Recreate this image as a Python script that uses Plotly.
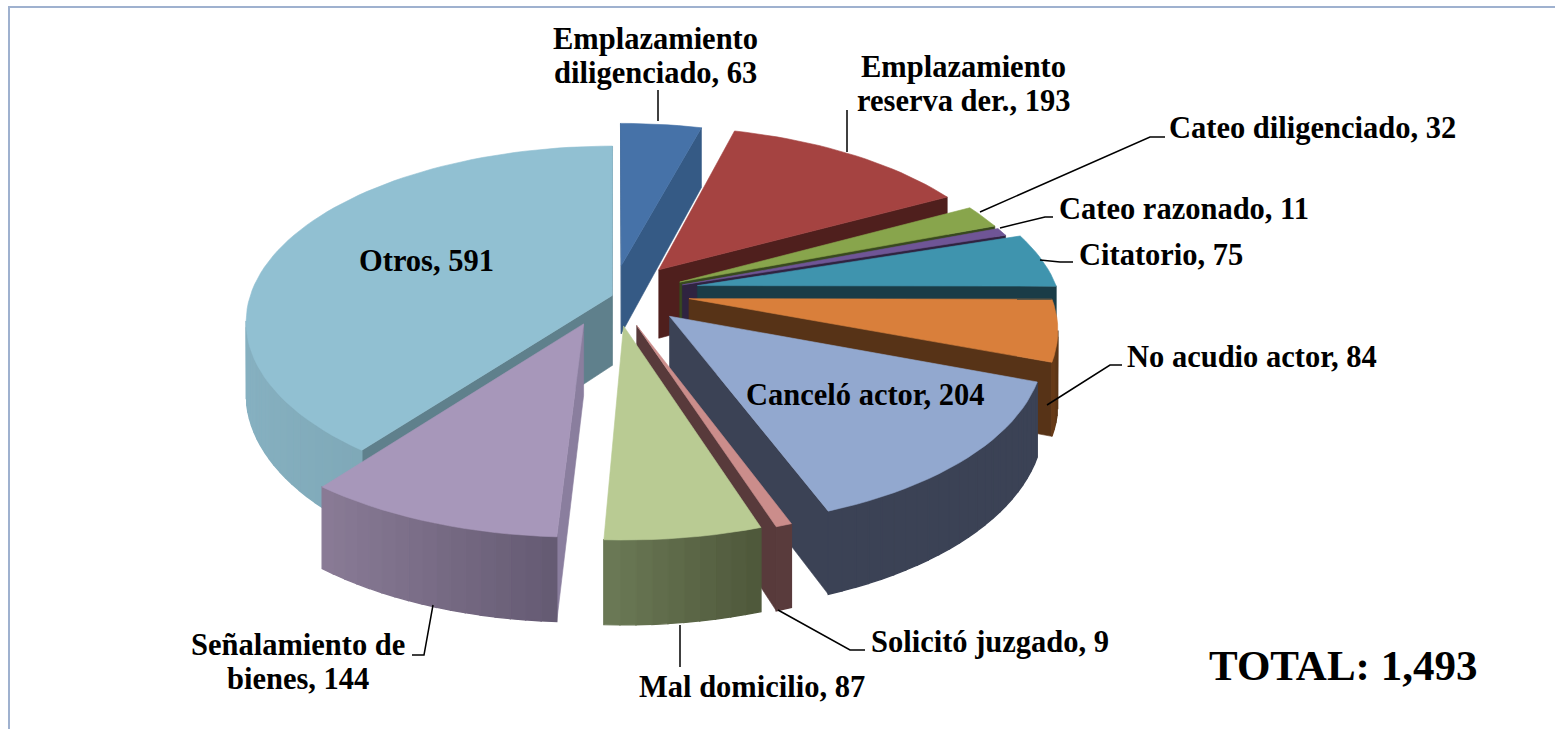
import numpy as np
import plotly.graph_objects as go

categories = ["Emplazamiento diligenciado", "Emplazamiento reserva der.", "Cateo diligenciado",
              "Cateo razonado", "Citatorio", "No acudio actor", "Canceló actor",
              "Solicitó juzgado", "Mal domicilio", "Señalamiento de bienes", "Otros"]
values = [63, 193, 32, 11, 75, 84, 204, 9, 87, 144, 591]
total_label = "TOTAL: 1,493"

top_colors = ["#4672a8", "#a54341", "#88a54c", "#6f5596", "#3f94ae", "#d97f3b",
              "#92a8cf", "#cb8d8b", "#b9cb93", "#a797ba", "#91c0d2"]
radial_colors = ["#355a85", "#4f1f1d", "#38491f", "#2f2340", "#1a3c47", "#573317",
                 "#3b4255", "#583a3b", "#505a3c", "#8a7e9e", "#5f808c"]
outer_left = ["#355a85", "#4f1f1d", "#38491f", "#2f2340", "#1f4b59", "#6a3d18",
              "#3b4255", "#5a3c3d", "#6b7a56", "#8a7b96", "#86b0c0"]
outer_right = ["#355a85", "#4f1f1d", "#38491f", "#2f2340", "#1a3c47", "#573317",
               "#3b4255", "#583a3b", "#4e573a", "#645a72", "#6f98a6"]
pulls = [66, 72, 72, 72, 86, 74, 68, 64, 62, 65, 3]
pull_turn = [-2, 0, 0, 0, -6, -6, -7, 0, 0, 8, 0]

R, RV, K, DEPTH = 362.0, 172.0, 0.15, 70.0
CX, CY = 615.0, 296.0


def project(X, Y, z=0.0):
    s = 1.0 / (1.0 + K * Y / R)
    return CX + X * s, CY - RV * (Y / R) * s + z * DEPTH * s


def hex2rgb(h):
    return np.array([int(h[i:i + 2], 16) for i in (1, 3, 5)], float)


def mix(a, b, t):
    c = hex2rgb(a) * (1 - t) + hex2rgb(b) * t
    return "rgb(%d,%d,%d)" % tuple(c.round())


def area(xs, ys):
    xs, ys = np.asarray(xs), np.asarray(ys)
    return 0.5 * np.sum(xs * np.roll(ys, -1) - np.roll(xs, -1) * ys)


fig = go.Figure()


def poly(xs, ys, color, width=0.6):
    fig.add_trace(go.Scatter(x=list(xs) + [xs[0]], y=list(ys) + [ys[0]], mode="lines",
                             fill="toself", fillcolor=color,
                             line=dict(color=color, width=width),
                             hoverinfo="skip", showlegend=False))


total = sum(values)
edges = np.concatenate([[0], np.cumsum(values)]) / total * 360.0
order = []
for i in range(len(values)):
    mid = np.radians((edges[i] + edges[i + 1]) / 2)
    order.append((pulls[i] * np.cos(mid) + R * 0.5 * np.cos(mid), i))
order.sort(reverse=True)

for _, i in order:
    a0, a1 = edges[i], edges[i + 1]
    mid = np.radians((a0 + a1) / 2 + pull_turn[i])
    ox, oy = pulls[i] * np.sin(mid), pulls[i] * np.cos(mid)
    n = max(2, int((a1 - a0) / 2) + 1)
    th = np.radians(np.linspace(a0, a1, n))
    PX = ox + R * np.sin(th)
    PY = oy + R * np.cos(th)
    tx, ty = project(PX, PY, 0)
    bx, by = project(PX, PY, 1)
    ax, ay = project(ox, oy, 0)
    abx, aby = project(ox, oy, 1)
    # radial walls: keep only those turned towards the viewer
    q = ([ax, tx[0], bx[0], abx], [ay, ty[0], by[0], aby])
    if area(*q) < 0:
        poly(q[0], q[1], radial_colors[i])
    q = ([ax, abx, bx[-1], tx[-1]], [ay, aby, by[-1], ty[-1]])
    if area(*q) < 0:
        poly(q[0], q[1], radial_colors[i])
    # outer wall with a left-to-right gradient
    xmin, xmax = tx.min(), tx.max()
    for j in range(n - 1):
        qx = [tx[j], bx[j], bx[j + 1], tx[j + 1]]
        qy = [ty[j], by[j], by[j + 1], ty[j + 1]]
        if area(qx, qy) > 0:
            t = ((tx[j] + tx[j + 1]) / 2 - xmin) / max(xmax - xmin, 1)
            poly(qx, qy, mix(outer_left[i], outer_right[i], t), width=1.4)
    # top face
    poly([ax] + list(tx), [ay] + list(ty), top_colors[i])

FONT = "Liberation Serif"
LINE_GAP = 34
label_pos = [(655, 56, "center"), (963, 84, "center"), (1167, 128, "left"), (1057, 209, "left"),
             (1077, 255, "left"), (1125, 357, "left"), (865, 395, "center"), (869, 642, "left"),
             (752, 687, "center"), (298, 662, "center"), (426, 261, "center")]
line_breaks = {0: ["Emplazamiento", "diligenciado"], 1: ["Emplazamiento", "reserva der."],
               9: ["Señalamiento de", "bienes"]}
for i, (lx, ly, anchor) in enumerate(label_pos):
    lines = list(line_breaks.get(i, [categories[i]]))
    lines[-1] = "%s, %d" % (lines[-1], values[i])
    for k, line in enumerate(lines):
        yy = ly + (k - (len(lines) - 1) / 2) * LINE_GAP
        fig.add_annotation(x=lx, y=yy, text="<b>%s</b>" % line, showarrow=False, xanchor=anchor,
                           yanchor="middle", align="center",
                           font=dict(family=FONT, size=30.5, color="#000000"))
fig.add_annotation(x=1343, y=665, text="<b>%s</b>" % total_label, showarrow=False,
                   font=dict(family=FONT, size=43, color="#000000"))

leaders = [[(658, 121), (658, 90)], [(847, 152), (847, 110)],
           [(980, 212), (1150, 137), (1165, 137)], [(1000, 228), (1045, 217), (1053, 217)],
           [(1040, 260), (1060, 262), (1073, 262)], [(1047, 405), (1110, 365), (1122, 365)],
           [(778, 610), (850, 650), (865, 650)], [(680, 625), (680, 667)],
           [(433, 605), (424, 655), (412, 655)]]
for pts in leaders:
    fig.add_trace(go.Scatter(x=[p[0] for p in pts], y=[p[1] for p in pts], mode="lines",
                             line=dict(color="#000000", width=1.5), hoverinfo="skip",
                             showlegend=False))

fig.add_shape(type="line", x0=8, x1=1555, y0=7, y1=7, line=dict(color="#9fb1cf", width=2))
fig.add_shape(type="line", x0=9, x1=9, y0=7, y1=729, line=dict(color="#9fb1cf", width=2))

fig.update_layout(width=1555, height=729, margin=dict(l=0, r=0, t=0, b=0),
                  paper_bgcolor="#ffffff", plot_bgcolor="#ffffff",
                  xaxis=dict(range=[0, 1555], visible=False, fixedrange=True),
                  yaxis=dict(range=[729, 0], visible=False, fixedrange=True))
fig.write_html("out.html", config={"displayModeBar": False},
               post_script="document.body.style.margin='0';document.body.style.overflow='hidden';")
